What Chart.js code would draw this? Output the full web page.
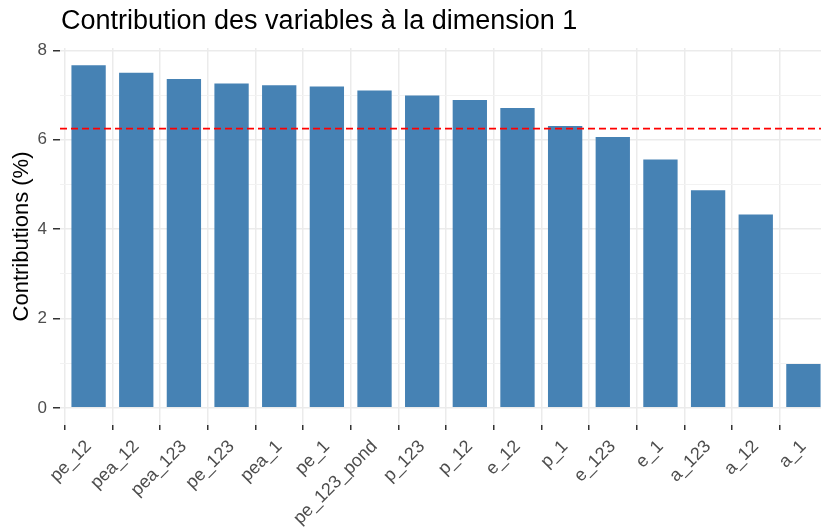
<!DOCTYPE html>
<html>
<head>
<meta charset="utf-8">
<script src="https://cdn.jsdelivr.net/npm/chart.js@4.4.1/dist/chart.umd.min.js"></script>
<style>
  html, body { margin: 0; padding: 0; background: #fff; overflow: hidden; }
  #wrap { position: relative; width: 840px; height: 528px; }
  #title {
    position: absolute; left: 61px; top: 5px;
    font-family: "Liberation Sans", Arial, sans-serif; font-size: 27px; color: #000;
    white-space: nowrap;
  }
</style>
</head>
<body>
<div id="wrap">
  <div id="title">Contribution des variables à la dimension 1</div>
  <canvas id="contribChart" width="840" height="528"></canvas>
</div>
<script>
const variables = ['pe_12', 'pea_12', 'pea_123', 'pe_123', 'pea_1', 'pe_1', 'pe_123_pond', 'p_123',
                   'p_12', 'e_12', 'p_1', 'e_123', 'e_1', 'a_123', 'a_12', 'a_1'];
const contributions = [7.67, 7.50, 7.36, 7.26, 7.22, 7.19, 7.10, 6.99,
                       6.89, 6.71, 6.31, 6.06, 5.56, 4.87, 4.33, 0.98];
const yTickLabels = [0, 2, 4, 6, 8];
const expectedContrib = 100 / variables.length; // dashed reference line

const font = 'Liberation Sans, Arial, sans-serif';
const yMax = Math.max(...contributions);

// dashed horizontal line like geom_hline
const refLine = {
    id: 'refLine',
    afterDatasetsDraw(chart) {
        const area = chart.chartArea;
        const y = chart.scales.y.getPixelForValue(expectedContrib);
        const ctx = chart.ctx;
        ctx.save();
        ctx.strokeStyle = '#FF0000';
        ctx.lineWidth = 1.6;
        ctx.setLineDash([7, 4]);
        ctx.beginPath();
        ctx.moveTo(area.left, y);
        ctx.lineTo(area.right, y);
        ctx.stroke();
        ctx.restore();
    }
};

const ctx = document.getElementById('contribChart').getContext('2d');
const contribChart = new Chart(ctx, {
    type: 'bar',
    data: {
        datasets: [{
            data: contributions.map((v, i) => ({ x: i, y: v })),
            backgroundColor: '#4682B4',
            borderWidth: 0,
            barPercentage: 0.72,
            categoryPercentage: 1
        }]
    },
    options: {
        responsive: false,
        animation: false,
        layout: { padding: { left: 0, right: 8, top: 48, bottom: 0 } },
        plugins: {
            legend: { display: false },
            tooltip: { enabled: false }
        },
        scales: {
            x: {
                type: 'linear',
                offset: false,
                min: -0.6,
                max: variables.length - 0.4,
                afterBuildTicks: (axis) => { axis.ticks = variables.map((_, i) => ({ value: i })); },
                afterFit: (axis) => { axis.height = 103; },
                border: { display: false },
                grid: {
                    color: '#EBEBEB',
                    lineWidth: 1.5,
                    drawTicks: true,
                    tickLength: 5,
                    tickColor: '#333333',
                    tickWidth: 1.5
                },
                ticks: {
                    autoSkip: false,
                    maxRotation: 45,
                    minRotation: 45,
                    padding: 6,
                    color: '#4D4D4D',
                    font: { family: font, size: 18 },
                    callback: (v) => variables[v]
                }
            },
            y: {
                min: -yMax * 0.05,
                max: yMax * 1.05,
                afterBuildTicks: (axis) => {
                    const t = [];
                    for (let v = yTickLabels[0]; v <= yTickLabels[yTickLabels.length - 1]; v++) t.push({ value: v });
                    axis.ticks = t;
                },
                afterFit: (axis) => { axis.width = 60; },
                border: { display: false },
                grid: {
                    color: (c) => (c.tick && yTickLabels.includes(c.tick.value)) ? '#EBEBEB' : '#F2F2F2',
                    lineWidth: (c) => (c.tick && yTickLabels.includes(c.tick.value)) ? 1.5 : 1,
                    drawTicks: true,
                    tickLength: 7,
                    tickColor: (c) => (c.tick && yTickLabels.includes(c.tick.value)) ? '#333333' : 'rgba(0,0,0,0)',
                    tickWidth: 1.5
                },
                title: {
                    display: true,
                    text: 'Contributions (%)',
                    color: '#000',
                    font: { family: font, size: 22 },
                    padding: { top: 9, bottom: 0 }
                },
                ticks: {
                    padding: 6,
                    color: '#4D4D4D',
                    font: { family: font, size: 17 },
                    callback: (v) => yTickLabels.includes(v) ? v : ''
                }
            }
        }
    },
    plugins: [refLine]
});
</script>
</body>
</html>
